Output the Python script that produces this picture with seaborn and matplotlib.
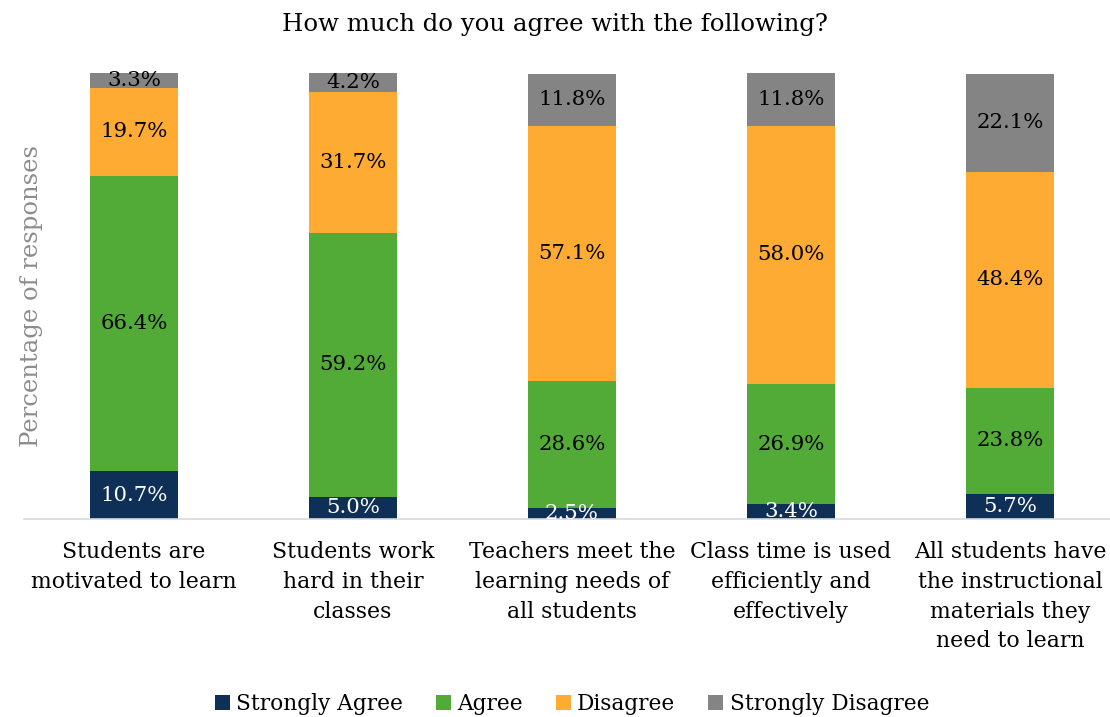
import matplotlib.pyplot as plt
import numpy as np
import pandas as pd
import seaborn as sns

categories = ['Students are\nmotivated to learn',
              'Students work\nhard in their\nclasses',
              'Teachers meet the\nlearning needs of\nall students',
              'Class time is used\nefficiently and\neffectively',
              'All students have\nthe instructional\nmaterials they\nneed to learn']
strongly_agree = [10.7, 5.0, 2.5, 3.4, 5.7]
agree = [66.4, 59.2, 28.6, 26.9, 23.8]
disagree = [19.7, 31.7, 57.1, 58.0, 48.4]
strongly_disagree = [3.3, 4.2, 11.8, 11.8, 22.1]

series = ['Strongly Agree', 'Agree', 'Disagree', 'Strongly Disagree']
colors = ['#0e2f56', '#52aa37', '#fdab33', '#848484']
text_colors = ['white', 'black', 'black', 'black']

df = pd.DataFrame({'category': categories,
                   'Strongly Agree': strongly_agree,
                   'Agree': agree,
                   'Disagree': disagree,
                   'Strongly Disagree': strongly_disagree})

sns.set_style('white')
plt.rcParams['font.family'] = ['DejaVu Serif']
plt.rcParams['text.color'] = 'black'
plt.rcParams['xtick.color'] = 'black'

fig = plt.figure(figsize=(11.1, 7.17), dpi=100)
ax = fig.add_axes([0.022, 0.276, 0.9865, 0.622])

bottom = np.zeros(len(categories))
for name, col, tc in zip(series, colors, text_colors):
    sns.barplot(x='category', y=name, data=df, color=col, width=0.4,
                bottom=bottom, ax=ax, label=name, saturation=1, linewidth=0)
    cont = ax.containers[-1]
    ax.bar_label(cont, labels=[f'{v:.1f}%' for v in df[name]],
                 label_type='center', color=tc, fontsize=15.3)
    bottom += df[name].values

ax.set_ylim(0, 100.1)
ax.set_xlim(-0.5, 4.5)
ax.set_yticks([])
ax.set_xlabel('')
ax.set_ylabel('Percentage of responses', fontsize=17.5, color='#8c8c8c')
ax.yaxis.set_label_coords(0.017, 0.5)
ax.tick_params(axis='x', labelsize=15.8, length=0, pad=16, labelcolor='black')
for lbl in ax.get_xticklabels():
    lbl.set_linespacing(1.45)
for s in ['top', 'right', 'left']:
    ax.spines[s].set_visible(False)
ax.spines['bottom'].set_color('#d9d9d9')
ax.spines['bottom'].set_linewidth(1.2)

fig.suptitle('How much do you agree with the following?', fontsize=17.6,
             y=0.982, color='black')

handles, labels = ax.get_legend_handles_labels()
leg = ax.legend(handles, labels, loc='center', bbox_to_anchor=(0.5, -0.415),
                ncol=4, frameon=False, fontsize=15.6, handlelength=0.7,
                handleheight=0.7, handletextpad=0.3, columnspacing=1.5)
for t in leg.get_texts():
    t.set_color('black')

fig.savefig('out.png', dpi=100)
